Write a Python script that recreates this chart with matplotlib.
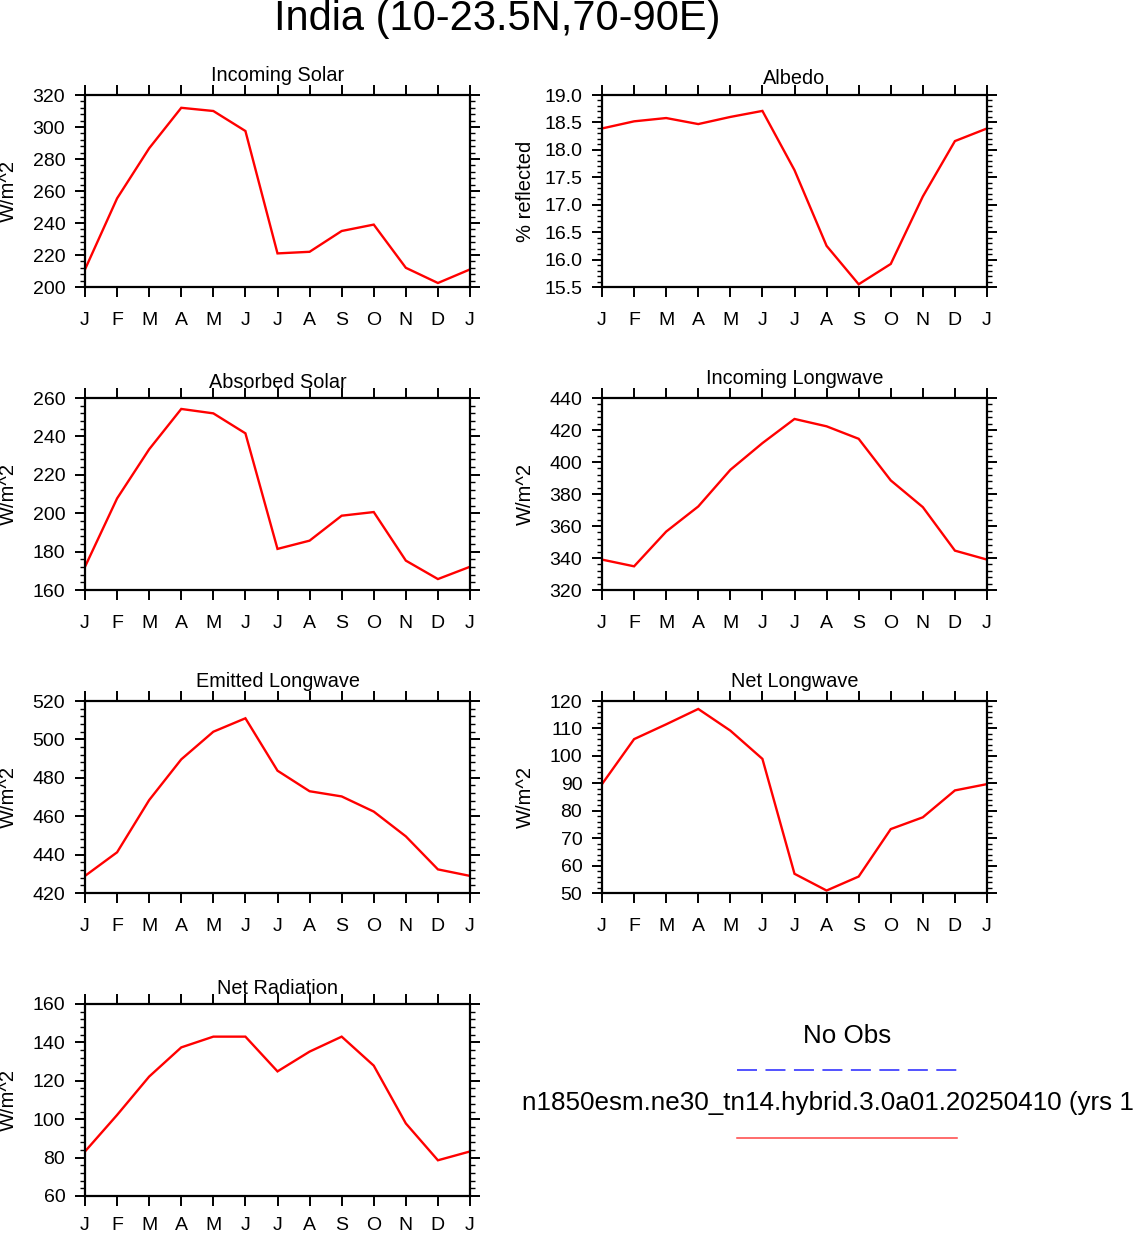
import matplotlib
matplotlib.use('Agg')
import matplotlib.pyplot as plt
from matplotlib.ticker import MultipleLocator, FormatStrFormatter, FixedLocator
from matplotlib.lines import Line2D

plt.rcParams['font.family'] = ['Liberation Sans', 'DejaVu Sans']
plt.rcParams['lines.scale_dashes'] = False

# ---------------- data ----------------
months = list(range(13))
month_labels = ['J', 'F', 'M', 'A', 'M', 'J', 'J', 'A', 'S', 'O', 'N', 'D', 'J']

incoming_solar = [211.0, 255.4, 286.7, 312.0, 310.0, 297.5, 221.0, 222.0, 235.0, 239.0, 212.0, 202.5, 211.0]
albedo = [18.39, 18.52, 18.58, 18.47, 18.60, 18.71, 17.63, 16.25, 15.55, 15.92, 17.15, 18.16, 18.39]
absorbed_solar = [172.1, 207.7, 233.3, 254.3, 252.0, 241.6, 181.4, 185.7, 198.7, 200.6, 175.3, 165.7, 172.1]
incoming_lw = [339.0, 334.8, 356.5, 372.2, 395.1, 411.8, 426.9, 422.3, 414.5, 388.5, 371.8, 344.6, 339.0]
emitted_lw = [428.9, 441.2, 468.4, 489.6, 504.0, 511.0, 483.7, 473.0, 470.3, 462.4, 449.5, 432.3, 428.9]
net_lw = [89.7, 106.1, 111.5, 117.1, 109.2, 98.9, 57.0, 50.9, 56.0, 73.3, 77.6, 87.4, 89.7]
net_rad = [83.2, 102.2, 122.2, 137.4, 143.0, 143.0, 124.9, 135.2, 143.0, 127.9, 97.8, 78.6, 83.2]

panel_titles = ['Incoming Solar', 'Albedo', 'Absorbed Solar', 'Incoming Longwave',
                'Emitted Longwave', 'Net Longwave', 'Net Radiation']
panel_data = [incoming_solar, albedo, absorbed_solar, incoming_lw, emitted_lw, net_lw, net_rad]
panel_ylabels = ['W/m^2', '% reflected', 'W/m^2', 'W/m^2', 'W/m^2', 'W/m^2', 'W/m^2']
panel_ylims = [(200, 320), (15.5, 19.0), (160, 260), (320, 440), (420, 520), (50, 120), (60, 160)]
panel_major = [20, 0.5, 20, 20, 20, 10, 20]
panel_minor = [4, 0.1, 4, 4, 4, 2, 4]
panel_fmt = ['%d', '%.1f', '%d', '%d', '%d', '%d', '%d']

main_title = 'India (10-23.5N,70-90E)'
legend_obs = 'No Obs'
legend_case = 'n1850esm.ne30_tn14.hybrid.3.0a01.20250410 (yrs 1'

# ---------------- layout ----------------
W, H = 1135, 1235
fig = plt.figure(figsize=(W / 100, H / 100), dpi=100)

col_left = [85, 602]
row_top = [95, 398, 701, 1004]
aw, ah = 385, 192

for i in range(7):
    r, c = divmod(i, 2)
    x0 = col_left[c]
    y0 = row_top[r]
    ax = fig.add_axes([x0 / W, 1 - (y0 + ah) / H, aw / W, ah / H])
    ax.plot(months, panel_data[i], color='red', lw=1.7, solid_joinstyle='miter')
    ax.set_xlim(0, 12)
    ax.set_ylim(*panel_ylims[i])
    ax.xaxis.set_major_locator(FixedLocator(months))
    ax.set_xticklabels(month_labels)
    ax.yaxis.set_major_locator(MultipleLocator(panel_major[i]))
    ax.yaxis.set_minor_locator(MultipleLocator(panel_minor[i]))
    ax.yaxis.set_major_formatter(FormatStrFormatter(panel_fmt[i]))
    ax.tick_params(axis='both', which='major', direction='out', length=7.2, width=1.4,
                   labelsize=14, pad=7, top=True, right=True, labeltop=False, labelright=False)
    ax.tick_params(axis='x', which='major', pad=(8.0 if r == 3 else 10.5))
    ax.tick_params(axis='y', which='minor', direction='out', length=3.6, width=1.0,
                   left=True, right=True)
    for sp in ax.spines.values():
        sp.set_linewidth(1.6)
    ax.set_ylabel(panel_ylabels[i], fontsize=14.5, va='center')
    ax.yaxis.set_label_coords(-76.5 / aw, 0.5)
    t = panel_titles[i]
    off = 14.3 if any(ch in t for ch in 'gjpqy') else 10.5
    ax.text(0.5, 1 + off / ah, t, transform=ax.transAxes, ha='center', va='baseline',
            fontsize=14.3)

fig.text(497 / W, 1 - 19 / H, main_title, ha='center', va='center', fontsize=30)

# legend area
fig.text(847 / W, 1 - 1036 / H, legend_obs, ha='center', va='center', fontsize=18.7)
fig.add_artist(Line2D([737 / W, 957 / W], [1 - 1069.5 / H] * 2, transform=fig.transFigure,
                      color='#4444ff', lw=1.3, dashes=(14.4, 6.1)))
fig.text(522 / W, 1 - 1103 / H, legend_case, ha='left', va='center', fontsize=18.7)
fig.add_artist(Line2D([737 / W, 957 / W], [1 - 1138 / H] * 2, transform=fig.transFigure,
                      color='#ff4444', lw=1.1))

fig.savefig('out.png', dpi=100)
